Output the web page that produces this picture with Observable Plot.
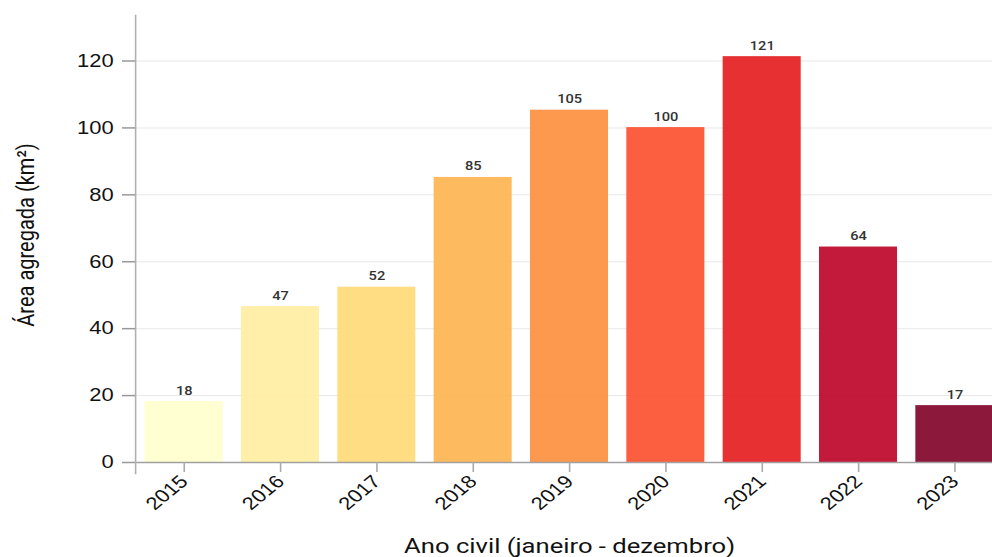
<!DOCTYPE html>
<html>
<head>
<meta charset="utf-8">
<script src="https://cdn.jsdelivr.net/npm/d3@7"></script>
<script src="https://cdn.jsdelivr.net/npm/@observablehq/plot@0.6"></script>
<style>
  html, body { margin: 0; padding: 0; background: #fff; overflow: hidden; width: 992px; height: 557px; }
  #chart { width: 992px; height: 557px; overflow: hidden; }
  #chart svg { display: block; max-width: none !important; width: 1010px !important; height: 557px !important; }
</style>
</head>
<body>
<div id="chart"></div>
<script>
const years = ["2015", "2016", "2017", "2018", "2019", "2020", "2021", "2022", "2023"];
const areas = [18.2, 46.6, 52.4, 85.2, 105.3, 100.1, 121.3, 64.4, 17.0];
const valueLabels = ["18", "47", "52", "85", "105", "100", "121", "64", "17"];
const yTicks = [0, 20, 40, 60, 80, 100, 120];
const xTitle = "Ano civil (janeiro - dezembro)";
const yTitle = "Área agregada (km²)";

const data = years.map((year, i) => ({ year, area: areas[i], label: valueLabels[i] }));

// The reference is horizontally stretched; draw narrower and stretch the SVG.
const S = 1.22;
const W = 1010 / S;

const chart = Plot.plot({
  width: W,
  height: 557,
  marginTop: 15,
  marginBottom: 95,
  marginLeft: 135 / S,
  marginRight: 7 / S,
  style: { fontFamily: "'Liberation Sans', Arial, sans-serif", background: "#fff", color: "#222" },
  x: { domain: years, paddingInner: 0.19, paddingOuter: 0.1, round: false, axis: null },
  y: { domain: [0, 133.6], axis: null },
  color: { domain: years, range: d3.schemeYlOrRd[9] },
  marks: [
    Plot.gridY(yTicks.filter(d => d > 0), { stroke: "#e8e8e8", strokeOpacity: 1 }),
    Plot.barY(data, { x: "year", y: "area", fill: "year", fillOpacity: 0.9 }),
    Plot.ruleY([0], { stroke: "#a0a0a0", strokeWidth: 1.5 }),
    Plot.frame({ anchor: "left", stroke: "#b0b0b0", strokeWidth: 1.3, insetBottom: -11 }),
    Plot.text(data, {
      x: "year", y: "area", text: "label", dy: -7, lineAnchor: "bottom",
      fontSize: 12, fontWeight: 500, fontFamily: "Roboto, sans-serif", fill: "#333"
    }),
    Plot.axisY({
      ticks: yTicks, tickSize: 13 / S, tickPadding: 9 / S, fontSize: 18, stroke: "#999",
      strokeWidth: 1.5, label: null, fill: "#111"
    }),
    Plot.axisX({
      tickRotate: -45, tickSize: 10, tickPadding: 6, fontSize: 18, stroke: "#aaa",
      strokeWidth: 1.3, label: null, fill: "#111"
    }),
    Plot.text([xTitle], {
      frameAnchor: "bottom", textAnchor: "middle", lineAnchor: "middle", dy: 83.5,
      fontSize: 21, fontFamily: "Roboto, sans-serif", fill: "#111"
    }),
    Plot.text([yTitle], {
      frameAnchor: "left", textAnchor: "middle", lineAnchor: "middle", rotate: -90,
      dx: -109 / S, dy: -4, fontSize: 20, fontFamily: "Roboto, sans-serif", fill: "#111"
    })
  ]
});
chart.setAttribute("preserveAspectRatio", "none");
document.getElementById("chart").appendChild(chart);
</script>
</body>
</html>
